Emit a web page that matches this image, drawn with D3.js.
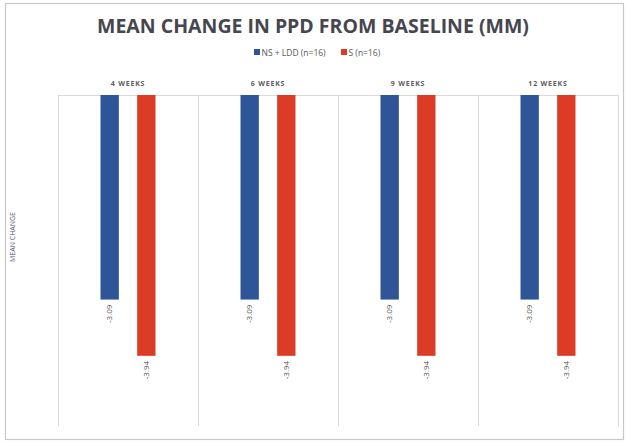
<!DOCTYPE html>
<html>
<head>
<meta charset="utf-8">
<script src="https://cdn.jsdelivr.net/npm/d3@7"></script>
<style>
  html, body { margin: 0; padding: 0; background: #fff; }
  svg { display: block; }
  text { font-family: "Open Sans", "Noto Sans", sans-serif; }
</style>
</head>
<body>
<svg id="chart" width="626" height="442"></svg>
<script>
// Time points shown as separate panels
const periods = ["4 WEEKS", "6 WEEKS", "9 WEEKS", "12 WEEKS"];
// Groups compared inside each panel
const groups = ["NS + LDD (n=16)", "S (n=16)"];
// Mean change in PPD (mm) per time point
const nsLdd = [-3.09, -3.09, -3.09, -3.09];
const sOnly = [-3.94, -3.94, -3.94, -3.94];
const colors = ["#2e5597", "#dc3b25"];

const series = [nsLdd, sOnly];
const data = periods.map((p, i) => ({
  period: p,
  values: groups.map((g, j) => ({ group: g, value: series[j][i] }))
}));

const svg = d3.select("#chart");

// outer frame
svg.append("rect")
  .attr("x", 5.5).attr("y", 3.5)
  .attr("width", 618).attr("height", 436)
  .attr("fill", "none").attr("stroke", "#c8c8c8").attr("stroke-width", 1.2);

// title
svg.append("text")
  .attr("x", 313).attr("y", 33)
  .attr("text-anchor", "middle")
  .attr("font-size", 19.5).attr("font-weight", 700)
  .attr("fill", "#46464f")
  .text("MEAN CHANGE IN PPD FROM BASELINE (MM)");

// legend
const legend = svg.append("g").attr("transform", "translate(254,55)");
const legendItems = legend.selectAll("g").data(groups).join("g")
  .attr("transform", (d, i) => `translate(${i === 0 ? 0 : 87},0)`);
legendItems.append("rect")
  .attr("x", 0).attr("y", -6).attr("width", 6).attr("height", 6)
  .attr("fill", (d, i) => colors[i]);
legendItems.append("text")
  .attr("x", 7.5).attr("y", 0.5)
  .attr("font-size", 8.5).attr("fill", "#595959")
  .text(d => d);

// panel layout
const x0 = d3.scaleBand().domain(periods).range([58, 618]);
const x1 = d3.scaleBand().domain(groups).range([0, x0.bandwidth()])
  .paddingInner(0.5).paddingOuter(1.16);
const y = d3.scaleLinear().domain([-5, 0]).range([426, 95]);

// panel frame lines
svg.append("line")
  .attr("x1", 58).attr("x2", 618)
  .attr("y1", y(0) + 0.5).attr("y2", y(0) + 0.5)
  .attr("stroke", "#d9d9d9");
svg.selectAll("line.divider")
  .data(periods.concat(["end"]))
  .join("line").attr("class", "divider")
  .attr("x1", (d, i) => Math.round(58 + i * x0.step()) + 0.5)
  .attr("x2", (d, i) => Math.round(58 + i * x0.step()) + 0.5)
  .attr("y1", y(0)).attr("y2", y(-5))
  .attr("stroke", "#d9d9d9");

// y-axis title
svg.append("text")
  .attr("transform", "translate(15,237) rotate(-90)")
  .attr("text-anchor", "middle")
  .attr("font-size", 7).attr("fill", "#5a5070")
  .text("MEAN CHANGE");

const panels = svg.selectAll("g.panel").data(data).join("g")
  .attr("class", "panel")
  .attr("transform", d => `translate(${x0(d.period)},0)`);

// panel headers
panels.append("text")
  .attr("x", x0.bandwidth() / 2).attr("y", 86)
  .attr("text-anchor", "middle")
  .attr("font-size", 7).attr("font-weight", 700)
  .attr("letter-spacing", 0.8)
  .attr("fill", "#606060")
  .text(d => d.period);

// bars
panels.selectAll("rect").data(d => d.values).join("rect")
  .attr("x", d => x1(d.group))
  .attr("width", x1.bandwidth())
  .attr("y", y(0))
  .attr("height", d => y(d.value) - y(0))
  .attr("fill", (d, i) => colors[i]);

// value labels
panels.selectAll("text.val").data(d => d.values).join("text")
  .attr("class", "val")
  .attr("transform", d => `translate(${x1(d.group) + x1.bandwidth() / 2},${y(d.value) + 5}) rotate(-90)`)
  .attr("text-anchor", "end")
  .attr("dy", "0.35em")
  .attr("font-size", 8).attr("fill", "#505050")
  .text(d => d.value.toFixed(2));
</script>
</body>
</html>
